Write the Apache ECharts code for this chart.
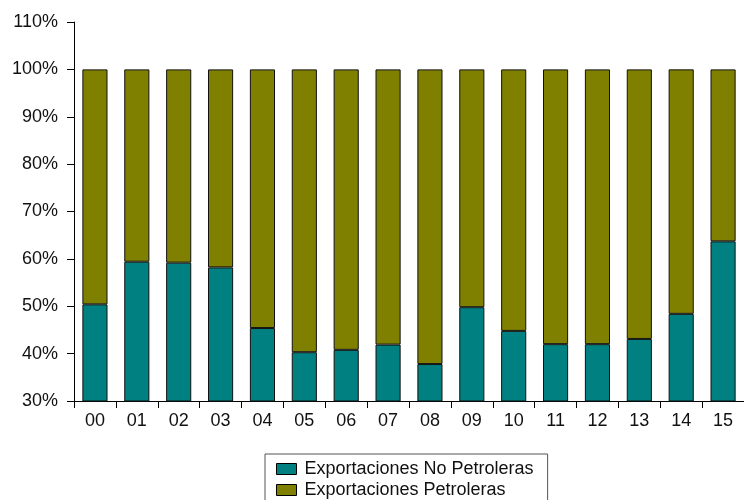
<!DOCTYPE html>
<html>
<head>
<meta charset="utf-8">
<script src="https://cdn.jsdelivr.net/npm/echarts@6/dist/echarts.min.js"></script>
<style>
  html, body { margin: 0; padding: 0; background: #fff; }
  #chart { width: 744px; height: 500px; }
</style>
</head>
<body>
<div id="chart"></div>
<script>
// Years (two-digit labels)
const years = ['00','01','02','03','04','05','06','07','08','09','10','11','12','13','14','15'];
// Share of non-oil exports in total exports (%)
const noPetroleras = [50.4, 59.4, 59.2, 58.2, 45.4, 40.3, 40.8, 41.9, 37.8, 49.8, 44.8, 42.0, 42.0, 43.1, 48.4, 63.7];
// Share of oil exports (%), completing each bar to 100%
const petroleras = [49.6, 40.6, 40.8, 41.8, 54.6, 59.7, 59.2, 58.1, 62.2, 50.2, 55.2, 58.0, 58.0, 56.9, 51.6, 36.3];
const yMin = 30, yMax = 110, yStep = 10;

const font = 'Arial, "Liberation Sans", sans-serif';
const chart = echarts.init(document.getElementById('chart'));
chart.setOption({
  animation: false,
  textStyle: { fontFamily: font },
  grid: { left: 74, right: 0, top: 22, bottom: 99, containLabel: false },
  legend: {
    orient: 'vertical',
    left: 265,
    top: 454,
    height: 120,
    padding: [6, 14, 40, 11],
    itemGap: 3,
    itemWidth: 20,
    itemHeight: 11,
    icon: 'rect',
    borderColor: '#555',
    borderWidth: 1,
    textStyle: { fontFamily: font, fontSize: 18, color: '#111', padding: [0, 0, 0, 3] },
    data: [
      { name: 'Exportaciones No Petroleras', itemStyle: { borderColor: '#000', borderWidth: 1 } },
      { name: 'Exportaciones Petroleras', itemStyle: { borderColor: '#000', borderWidth: 1 } }
    ]
  },
  xAxis: {
    type: 'category',
    data: years,
    axisLine: { lineStyle: { color: '#000', width: 1 } },
    axisTick: { show: true, length: 7, lineStyle: { color: '#000' } },
    axisLabel: { margin: 11, fontSize: 18, color: '#111', fontFamily: font },
    splitLine: { show: false }
  },
  yAxis: {
    type: 'value',
    min: yMin,
    max: yMax,
    interval: yStep,
    axisLine: { show: true, lineStyle: { color: '#000', width: 1 } },
    axisTick: { show: true, length: 7, lineStyle: { color: '#000' } },
    axisLabel: { margin: 16, fontSize: 18, color: '#111', fontFamily: font, formatter: '{value}%' },
    splitLine: { show: false }
  },
  series: [
    {
      name: 'Exportaciones No Petroleras',
      type: 'bar',
      stack: 'total',
      barCategoryGap: '40%',
      data: noPetroleras,
      itemStyle: { color: '#008080', borderColor: '#111', borderWidth: 1 }
    },
    {
      name: 'Exportaciones Petroleras',
      type: 'bar',
      stack: 'total',
      barCategoryGap: '40%',
      data: petroleras,
      itemStyle: { color: '#808000', borderColor: '#111', borderWidth: 1 }
    }
  ]
});
</script>
</body>
</html>
